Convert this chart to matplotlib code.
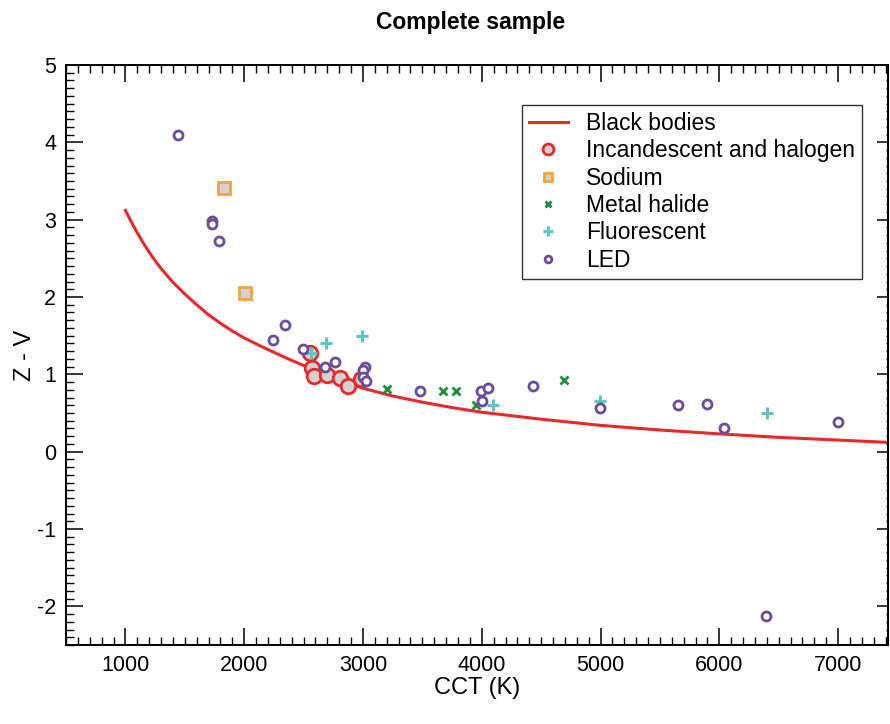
import matplotlib
matplotlib.use("Agg")
import matplotlib.pyplot as plt
from matplotlib.ticker import MultipleLocator

plt.rcParams['font.family'] = ['Liberation Sans', 'DejaVu Sans']
plt.rcParams['axes.unicode_minus'] = False

# Black body locus
bb_cct = [1000, 1050, 1100, 1150, 1200, 1250, 1300, 1350, 1400, 1500, 1600, 1700, 1800, 1900,
          2000, 2200, 2400, 2600, 2800, 3000, 3250, 3500, 3750, 4000, 4500, 5000, 5500,
          6000, 6500, 7000, 7420]
bb_zv = [3.12, 2.97, 2.83, 2.70, 2.58, 2.47, 2.37, 2.28, 2.19, 2.04, 1.90, 1.77, 1.66, 1.56,
         1.47, 1.32, 1.18, 1.05, 0.93, 0.82, 0.72, 0.64, 0.57, 0.51, 0.42, 0.34, 0.28,
         0.23, 0.185, 0.15, 0.12]

inc_cct = [2550, 2568, 2586, 2694, 2810, 2875, 2986]
inc_zv = [1.28, 1.08, 0.98, 0.99, 0.95, 0.85, 0.94]

sod_cct = [1828, 2005]
sod_zv = [3.41, 2.05]

mh_cct = [3205, 3674, 3781, 3955, 4691]
mh_zv = [0.81, 0.78, 0.78, 0.60, 0.93]

fl_cct = [2565, 2691, 2994, 4095, 4994, 6399]
fl_zv = [1.27, 1.41, 1.50, 0.60, 0.66, 0.50]

led_cct = [1447, 1725, 1725, 1792, 2239, 2340, 2494, 2677, 2764, 3014, 3000, 3000, 3022,
           3477, 3991, 4053, 4003, 4433, 4994, 5649, 5893, 6042, 7002, 6393]
led_zv = [4.09, 2.98, 2.94, 2.72, 1.44, 1.64, 1.33, 1.09, 1.16, 1.10, 1.05, 0.96, 0.91,
          0.78, 0.78, 0.82, 0.65, 0.85, 0.565, 0.60, 0.61, 0.30, 0.38, -2.12]

RED = "#e8282b"
PURPLE = "#6a4c9c"
ORANGE = "#f5a33b"
GREEN = "#1b8f3a"
CYAN = "#5cc6c6"
GRAY = "#d3d3d3"

fig = plt.figure(figsize=(8.9, 7.24), dpi=100)
ax = fig.add_axes([66/890, 1-645/724, (888-66)/890, (645-65)/724])

ax.plot(bb_cct, bb_zv, color=RED, lw=2.2, label="Black bodies", zorder=2)
ax.plot(inc_cct, inc_zv, ls="none", marker="o", ms=10.5, mfc=GRAY, mec=RED, mew=2.0,
        label="Incandescent and halogen", zorder=3)
ax.plot(sod_cct, sod_zv, ls="none", marker="s", ms=8, mfc=GRAY, mec=ORANGE, mew=2.0,
        label="Sodium", zorder=3)
ax.plot(mh_cct, mh_zv, ls="none", marker="x", ms=6, mec=GREEN, mew=2.0,
        label="Metal halide", zorder=4)
ax.plot(fl_cct, fl_zv, ls="none", marker="+", ms=9, mec=CYAN, mew=2.2,
        label="Fluorescent", zorder=4)
ax.plot(led_cct, led_zv, ls="none", marker="o", ms=6.5, mfc="white", mec=PURPLE, mew=2.0,
        label="LED", zorder=5)

ax.set_xlim(500, 7420)
ax.set_ylim(-2.5, 5)
ax.xaxis.set_major_locator(MultipleLocator(1000))
ax.xaxis.set_minor_locator(MultipleLocator(100))
ax.yaxis.set_major_locator(MultipleLocator(1))
ax.yaxis.set_minor_locator(MultipleLocator(0.1))

ax.tick_params(which="major", direction="in", length=12, width=1.1, top=True, right=False,
               labelsize=15.5, pad=7)
ax.tick_params(which="minor", direction="in", length=6, width=1.0, top=True, right=False)

ax2 = ax.twinx()
ax2.set_ylim(ax.get_ylim())
ax2.yaxis.set_major_locator(MultipleLocator(1))
ax2.yaxis.set_minor_locator(MultipleLocator(0.1))
ax2.tick_params(which="major", direction="in", length=8, width=1.1, labelright=False)
ax2.tick_params(which="minor", direction="in", length=1.5, width=1.0)

for a in (ax, ax2):
    for s in a.spines.values():
        s.set_linewidth(1.4)
ax2.spines['right'].set_linewidth(0.6)

ax.set_xlabel("CCT (K)", fontsize=17, labelpad=1)
ax.set_ylabel("Z - V", fontsize=17, labelpad=1)
fig.text(471/890, 1-22/724, "Complete sample", fontsize=16.5, fontweight="bold",
         ha="center", va="center")

leg = ax.legend(loc="upper right", bbox_to_anchor=(862/890, 1-105/724), bbox_transform=fig.transFigure,
                fontsize=16.5, frameon=True, fancybox=False, edgecolor="black",
                markerscale=0.75, handlelength=1.7, handletextpad=0.8, labelspacing=0.19,
                borderpad=0.3, borderaxespad=0)
leg.get_frame().set_linewidth(1.0)
leg.set_zorder(10)

fig.savefig("out.png", dpi=100)
